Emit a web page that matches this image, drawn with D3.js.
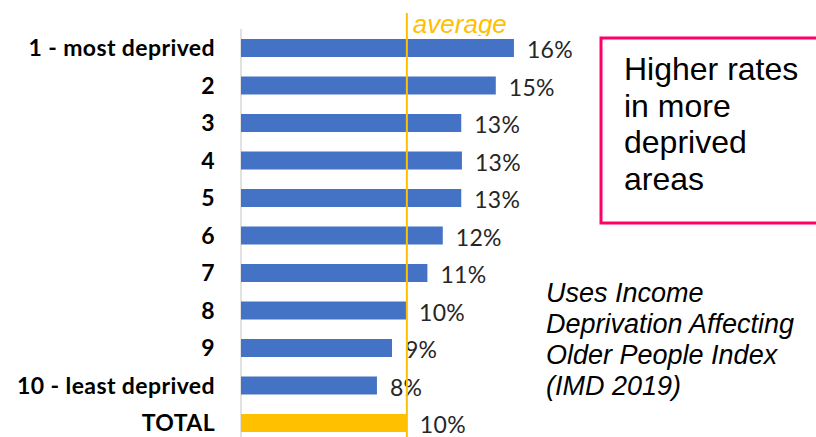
<!DOCTYPE html>
<html>
<head>
<meta charset="utf-8">
<script src="https://cdn.jsdelivr.net/npm/d3@7"></script>
<style>
  body { margin: 0; background: #fff; }
</style>
</head>
<body>
<script>
// data
var categories = ["1 - most deprived", "2", "3", "4", "5", "6", "7", "8", "9", "10 - least deprived", "TOTAL"];
var values = [15.96, 14.9, 12.88, 12.92, 12.88, 11.8, 10.9, 9.65, 8.83, 7.95, 9.7];
var labels = ["16%", "15%", "13%", "13%", "13%", "12%", "11%", "10%", "9%", "8%", "10%"];
var average = 9.7;
var boxLines = ["Higher rates", "in more", "deprived", "areas"];
var noteLines = ["Uses Income", "Deprivation Affecting", "Older People Index", "(IMD 2019)"];

var width = 816, height = 437;

var svg = d3.select("body")
  .append("svg")
    .attr("width", width)
    .attr("height", height)

var x = d3.scaleLinear().domain([0, 18]).range([241, 241 + 18 * 17.1])
var y = d3.scaleBand().domain(categories).range([29.25, 441.75]).paddingInner(0.52).paddingOuter(0.26)

// clip for the "average" label
svg.append("clipPath").attr("id", "topclip")
  .append("rect").attr("x", 0).attr("y", 0).attr("width", width).attr("height", 36)

// vertical axis line
svg.append("line")
  .attr("x1", x(0)).attr("x2", x(0))
  .attr("y1", 29).attr("y2", height)
  .style("stroke", "#d9d9d9").style("stroke-width", 1.5)

// bars
svg.selectAll("rect.bar")
  .data(categories)
  .enter().append("rect")
    .attr("class", "bar")
    .attr("x", x(0))
    .attr("y", function(d) { return y(d) })
    .attr("width", function(d, i) { return x(values[i]) - x(0) })
    .attr("height", y.bandwidth())
    .style("fill", function(d) { return d == "TOTAL" ? "#ffc000" : "#4472c4" })

// category labels
svg.selectAll("text.cat")
  .data(categories)
  .enter().append("text")
    .attr("class", "cat")
    .attr("x", 215)
    .attr("y", function(d) { return y(d) + y.bandwidth() / 2 })
    .attr("dy", "0.36em")
    .attr("text-anchor", "end")
    .text(function(d) { return d })
    .style("font-family", "Lato, sans-serif").style("font-weight", "bold")
    .style("font-size", "23px").style("letter-spacing", "0.4px").style("fill", "#000")

// value labels
svg.selectAll("text.val")
  .data(categories)
  .enter().append("text")
    .attr("class", "val")
    .attr("x", function(d, i) { return x(values[i]) + 13 })
    .attr("y", function(d) { return y(d) + y.bandwidth() / 2 + 2 })
    .attr("dy", "0.36em")
    .text(function(d, i) { return labels[i] })
    .style("font-family", "Lato, sans-serif")
    .style("font-size", "23px").style("letter-spacing", "0.3px").style("fill", "#262626")

// average line
svg.append("line")
  .attr("x1", x(average)).attr("x2", x(average))
  .attr("y1", 13).attr("y2", height)
  .style("stroke", "#ffc000").style("stroke-width", 2)

svg.append("text")
  .attr("x", x(average) + 6).attr("y", 33)
  .attr("clip-path", "url(#topclip)")
  .text("average")
  .style("font-family", "'Liberation Sans', Arial, sans-serif").style("font-style", "italic")
  .style("font-size", "26px").style("fill", "#ffc000")

// callout box
svg.append("rect")
  .attr("x", 601).attr("y", 38).attr("width", 230).attr("height", 185)
  .style("fill", "none").style("stroke", "#ff0066").style("stroke-width", 3)

svg.selectAll("text.box")
  .data(boxLines)
  .enter().append("text")
    .attr("class", "box")
    .attr("x", 624)
    .attr("y", function(d, i) { return 80 + i * 36.5 })
    .text(function(d) { return d })
    .style("font-family", "'Liberation Sans', Arial, sans-serif")
    .style("font-size", "32px").style("fill", "#000")

// source note
svg.selectAll("text.note")
  .data(noteLines)
  .enter().append("text")
    .attr("class", "note")
    .attr("x", 546)
    .attr("y", function(d, i) { return 302 + i * 31 })
    .text(function(d) { return d })
    .style("font-family", "'Liberation Sans', Arial, sans-serif").style("font-style", "italic")
    .style("font-size", "27px").style("fill", "#000")
</script>
</body>
</html>
